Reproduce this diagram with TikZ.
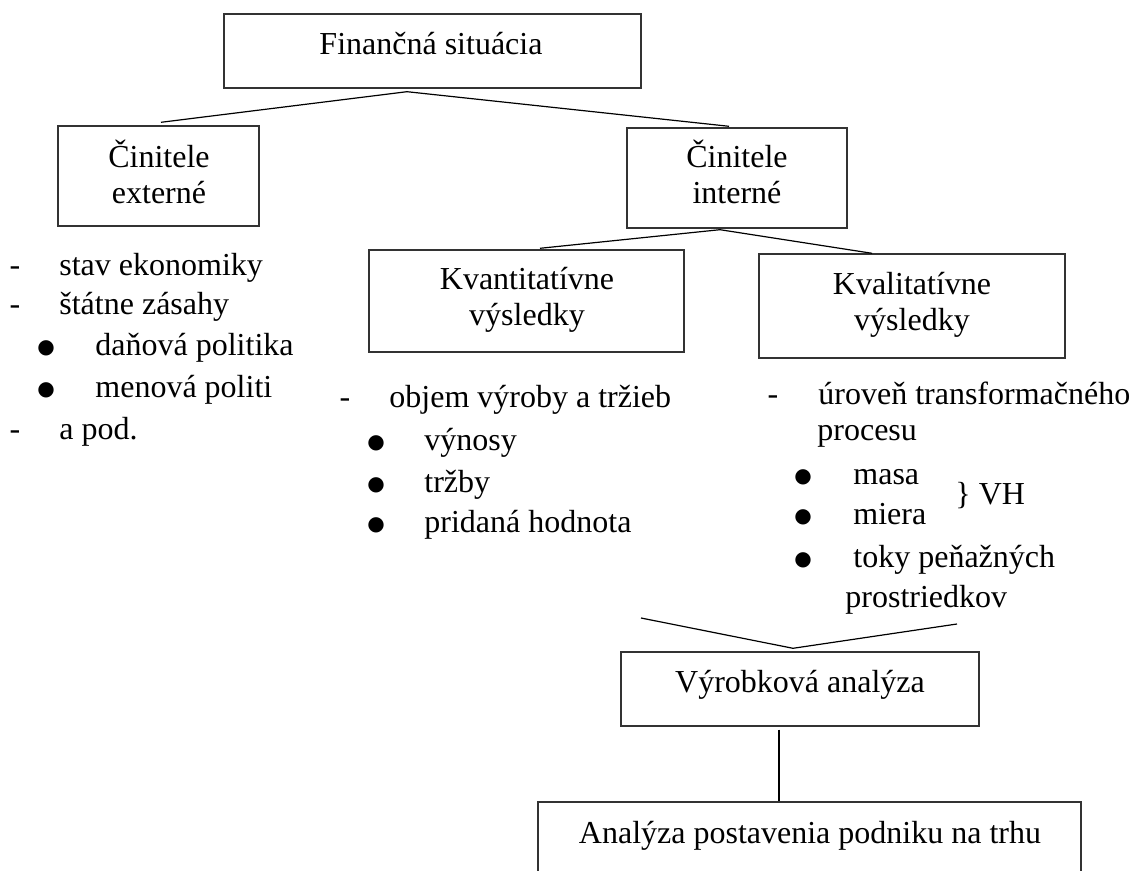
\documentclass[tikz,border=0pt]{standalone}
\usepackage{fontspec}
\setmainfont{Liberation Serif}
\newfontfamily\dejavu{DejaVu Sans}
\usetikzlibrary{calc}
\begin{document}
\begin{tikzpicture}[x=0.5pt,y=-0.5pt,
  boxst/.style={draw=black!80, line width=0.7pt, inner sep=0pt},
  txt/.style={inner sep=0pt, anchor=base, font=\fontsize{16pt}{18pt}\selectfont},
  item/.style={inner sep=0pt, anchor=base west, font=\fontsize{16pt}{18pt}\selectfont},
  dashmk/.style={inner sep=0pt, anchor=base, font=\fontsize{16pt}{18pt}\selectfont},
  bulletmk/.style={inner sep=0pt, anchor=center, font=\dejavu\fontsize{10pt}{10pt}\selectfont},
  conn/.style={line width=0.6pt}]
\clip (0,0) rectangle (1131,871);
\fill[white] (0,0) rectangle (1131,871);

% boxes
\node[boxst, minimum width=208.5pt, minimum height=37pt] (fin) at (432.5,51) {};
\node[boxst, minimum width=100.5pt, minimum height=50pt] (ext) at (158.5,176) {};
\node[boxst, minimum width=110pt, minimum height=50pt] (int) at (737,178) {};
\node[boxst, minimum width=157.5pt, minimum height=51pt] (kvant) at (526.5,301) {};
\node[boxst, minimum width=153pt, minimum height=52pt] (kval) at (912,306) {};
\node[boxst, minimum width=179pt, minimum height=37pt] (vyr) at (800,689) {};
\node[boxst, minimum width=271.5pt, minimum height=48pt] (trh) at (809.5,850) {};

% box texts
\node[txt] (finT) at (431,55) {Finančná situácia};
\node[txt] (extT1) at (159,168) {Činitele};
\node[txt] (extT2) at (159,204) {externé};
\node[txt] (intT1) at (737,168) {Činitele};
\node[txt] (intT2) at (737,204) {interné};
\node[txt] (kvantT1) at (527,290) {Kvantitatívne};
\node[txt] (kvantT2) at (527,326) {výsledky};
\node[txt] (kvalT1) at (912,295) {Kvalitatívne};
\node[txt] (kvalT2) at (912,331) {výsledky};
\node[txt] (vyrT) at (800,693) {Výrobková analýza};
\node[txt] (trhT) at (810,843) {Analýza postavenia podniku na trhu};

% connectors
\coordinate (finS) at ($(fin.south)+(-25.5,3)$);
\coordinate (extN) at ($(ext.north)+(2.5,-3)$);
\coordinate (intN) at ($(int.north)+(-8,-1)$);
\coordinate (intS) at ($(int.south)+(-17,1)$);
\coordinate (kvantN) at ($(kvant.north)+(13.5,-1)$);
\coordinate (kvalN) at ($(kval.north)+(-40,0)$);
\coordinate (vyrN) at ($(vyr.north)+(-7,-3)$);
\coordinate (leftEnd) at (641,618);
\coordinate (rightEnd) at (957,624);
\coordinate (vyrS) at ($(vyr.south)+(-21,3)$);
\draw[conn] (finS) -- (extN);
\draw[conn] (finS) -- (intN);
\draw[conn] (intS) -- (kvantN);
\draw[conn] (intS) -- (kvalN);
\draw[conn] (leftEnd) -- (vyrN) -- (rightEnd);
\draw[conn] (vyrS) -- (vyrS |- trh.north);

% left list
\node[dashmk] (d1) at (15,276) {-};
\node[item] (l1) at (59,276) {stav ekonomiky};
\node[dashmk] (d2) at (15,315) {-};
\node[item] (l2) at (59,315) {štátne zásahy};
\node[bulletmk] (b1) at (46,348) {●};
\node[item] (l3) at (95,356) {daňová politika};
\node[bulletmk] (b2) at (46,390) {●};
\node[item] (l4) at (95,398) {menová politi};
\node[dashmk] (d3) at (15,440) {-};
\node[item] (l5) at (59,440) {a pod.};

% middle list
\node[dashmk] (d4) at (345,408) {-};
\node[item] (m1) at (389,408) {objem výroby a tržieb};
\node[bulletmk] (b3) at (376,443) {●};
\node[item] (m2) at (424,451) {výnosy};
\node[bulletmk] (b4) at (376,485) {●};
\node[item] (m3) at (424,493) {tržby};
\node[bulletmk] (b5) at (376,525) {●};
\node[item] (m4) at (424,533) {pridaná hodnota};

% right list
\node[dashmk] (d5) at (773,405) {-};
\node[item] (r1) at (818,405) {úroveň transformačného};
\node[item] (r2) at (817,441) {procesu};
\node[bulletmk] (b6) at (803,477) {●};
\node[item] (r3) at (853,485) {masa};
\node[bulletmk] (b7) at (803,517) {●};
\node[item] (r4) at (853,525) {miera};
\node[bulletmk] (b8) at (803,560) {●};
\node[item] (r5) at (853,568) {toky peňažných};
\node[item] (r6) at (845,608) {prostriedkov};
\node[item] (vh) at (955,505) {\} VH};
\end{tikzpicture}
\end{document}
